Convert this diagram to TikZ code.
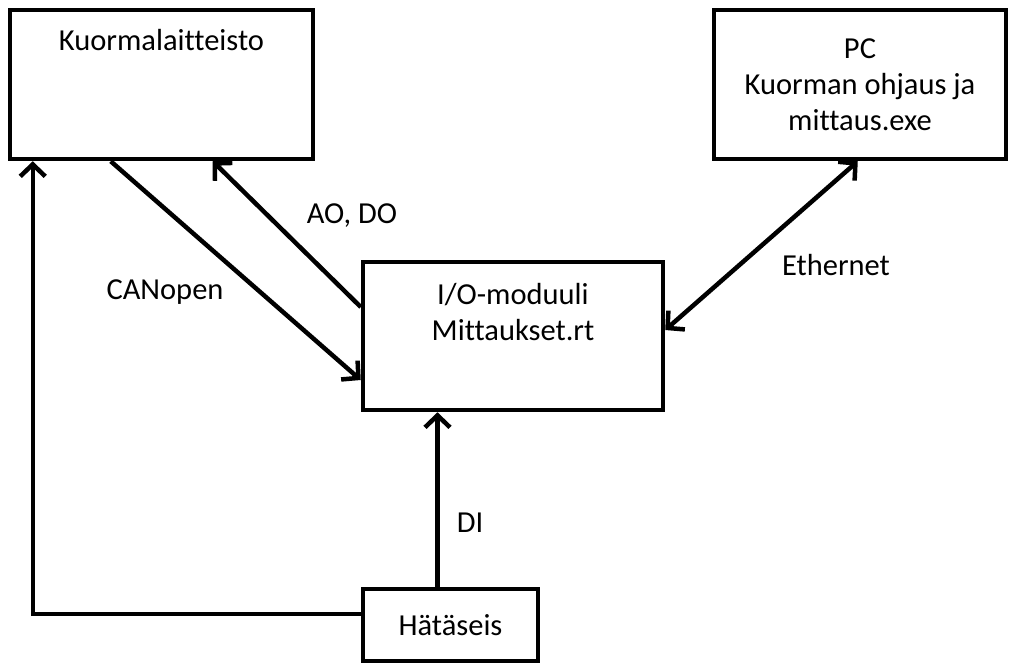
\documentclass[tikz,border=0pt]{standalone}
\usepackage{fontspec}
\setmainfont{Carlito}[Ligatures={NoCommon}]
\usetikzlibrary{arrows.meta}
\begin{document}
\begin{tikzpicture}[x=1pt,y=-1pt,
  every node/.style={font=\fontsize{30.5}{36}\selectfont, text=black},
  block/.style={draw=black, line width=4.5pt, rectangle, inner sep=0pt, fill=white},
  txt/.style={inner sep=0pt, align=center},
  link/.style={line width=4.5pt, draw=black, line cap=butt},
  barb/.tip={Straight Barb[length=12pt,width=25pt,line join=miter]},
  tip/.style={-barb},
  tips/.style={barb-barb}]
  \useasboundingbox (0,0) rectangle (1012,664);

  % blocks
  \node[block, minimum width=303pt, minimum height=149pt] (kuorma) at (161.5,84.5) {};
  \node[txt] (kuormatxt) at ([yshift=-32pt]kuorma.north) {Kuormalaitteisto};

  \node[block, minimum width=292pt, minimum height=149pt, txt] (pc) at (860,84.5)
    {\fontsize{30.5}{35.5}\selectfont PC\\Kuorman ohjaus ja\\mittaus.exe};

  \node[block, minimum width=300pt, minimum height=148pt] (io) at (513,336) {};
  \node[txt] (iotxt) at ([yshift=-52pt]io.north)
    {\fontsize{30.5}{37}\selectfont I/O-moduuli\\Mittaukset.rt};

  \node[block, minimum width=175pt, minimum height=72pt] (hata) at (450.5,625) {Hätäseis};

  % connectors
  \draw[link, tip] ([yshift=11pt]hata.west) -| ([xshift=25pt]kuorma.south west);
  \draw[link, tip] ([xshift=103pt]kuorma.south west) -- ([yshift=-44pt]io.west);
  \draw[link, tip] ([yshift=29pt]io.west) -- ([xshift=205pt]kuorma.south west);
  \draw[link, tips] ([yshift=6pt]io.east) -- ([xshift=146pt]pc.south west);
  \draw[link, tip] ([xshift=-13pt]hata.north) -- ([xshift=-13pt]hata.north |- io.south);

  % connector labels
  \node[txt] (lcan) at (165,292) {CANopen};
  \node[txt] (laodo) at (352,216) {AO, DO};
  \node[txt] (leth) at (836,265) {Ethernet};
  \node[txt] (ldi) at (470,523) {DI};
\end{tikzpicture}
\end{document}
